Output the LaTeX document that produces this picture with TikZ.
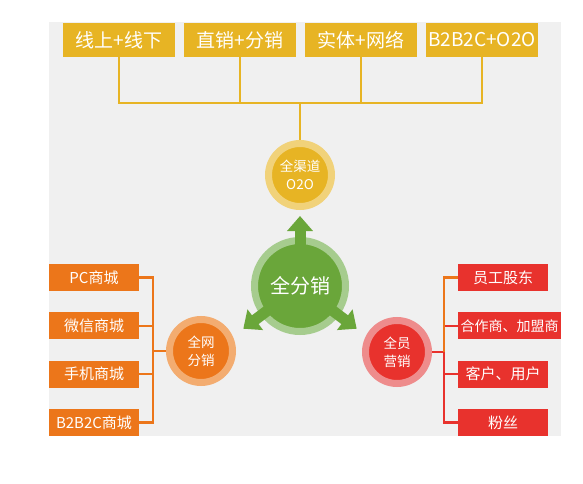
\documentclass[tikz,border=0pt]{standalone}
\usepackage{fontspec}
\setmainfont{Noto Sans CJK SC}
\usetikzlibrary{positioning, arrows, arrows.meta, calc}

\definecolor{bggrey}{RGB}{240,240,240}
\definecolor{gold}{RGB}{231,180,36}
\definecolor{goldring}{RGB}{241,210,122}
\definecolor{orng}{RGB}{236,118,26}
\definecolor{orngring}{RGB}{243,172,112}
\definecolor{rd}{RGB}{232,50,45}
\definecolor{rdring}{RGB}{238,140,140}
\definecolor{grn}{RGB}{106,166,58}
\definecolor{grnring}{RGB}{166,204,142}

\begin{document}
\begin{tikzpicture}[x=1pt,y=1pt,node distance=121pt,on grid,
    tbox/.style={fill=gold,text=white,minimum width=112pt,minimum height=34pt,inner sep=0pt,font=\fontsize{19}{19}\selectfont},
    lbox/.style={fill=orng,text=white,minimum width=90pt,minimum height=27pt,inner sep=0pt,font=\fontsize{15}{15}\selectfont},
    rbox/.style={lbox,fill=rd},
    hub/.style={circle,text=white,line width=7pt,minimum size=63pt,inner sep=0pt,align=center,font=\fontsize{13.5}{18}\selectfont},
    link/.style={line width=2.2pt},
    fat/.style={draw=grn,line width=11pt,-{Triangle[width=25pt,length=15pt]},shorten <=40pt}]
    \useasboundingbox (0,0) rectangle (583,483);
    \fill[bggrey] (49,47) rectangle (561,461);

    % top row
    \node[tbox] (T1) at (119,443) {线上+线下};
    \node[tbox] (T2) [right of=T1] {直销+分销};
    \node[tbox] (T3) [right of=T2] {实体+网络};
    \node[tbox] (T4) [right of=T3] {B2B2C+O2O};

    % circles
    \node[hub,fill=gold,draw=goldring] (O) at (300,308) {全渠道\\O2O};
    \node[hub,fill=grn,draw=grnring,minimum size=91pt,font=\fontsize{20}{20}\selectfont] (C) at (300,197) {全分销};
    \node[hub,fill=orng,draw=orngring] (N) at (201,132) {全网\\分销};
    \node[hub,fill=rd,draw=rdring] (S) at (397,131) {全员\\营销};

    \begin{scope}[node distance=48.3pt]
        \node[lbox] (L1) at (94,205.5) {PC商城};
        \node[lbox] (L2) [below of=L1] {微信商城};
        \node[lbox] (L3) [below of=L2] {手机商城};
        \node[lbox] (L4) [below of=L3] {B2B2C商城};

        \node[rbox] (R1) at (503,205.5) {员工股东};
        \node[rbox,minimum width=103pt,font=\fontsize{14}{14}\selectfont] (R2) [below of=R1,xshift=6.5pt] {合作商、加盟商};
        \node[rbox] (R3) [below of=R1,yshift=-48.3pt] {客户、用户};
        \node[rbox] (R4) [below of=R3] {粉丝};
    \end{scope}

    \coordinate (tbus) at (300,380);
    \coordinate (lbus) at (153,132);
    \coordinate (rbus) at (444,131);
    \coordinate (up) at ($(C.center)+(90:70)$);
    \coordinate (dl) at ($(C.center)+(217:71)$);
    \coordinate (dr) at ($(C.center)+(-37:71)$);

    % connectors
    \draw[link,gold] (T1) |- (tbus) -- (O);
    \draw[link,gold] (T2) |- (tbus);
    \draw[link,gold] (T3) |- (tbus);
    \draw[link,gold] (T4) |- (tbus);

    \draw[link,orng] (L1) -| (lbus) -- (N);
    \draw[link,orng] (L2) -| (lbus);
    \draw[link,orng] (L3) -| (lbus);
    \draw[link,orng] (L4) -| (lbus);

    \draw[link,rd] (R4) -| (rbus) -- (S);
    \draw[link,rd] (R2) -| (rbus);
    \draw[link,rd] (R3) -| (rbus);
    \draw[link,orng] (R1) -| (rbus);

    \draw[fat] (C.center) -- (up);
    \draw[fat] (C.center) -- (dl);
    \draw[fat] (C.center) -- (dr);
\end{tikzpicture}
\end{document}
